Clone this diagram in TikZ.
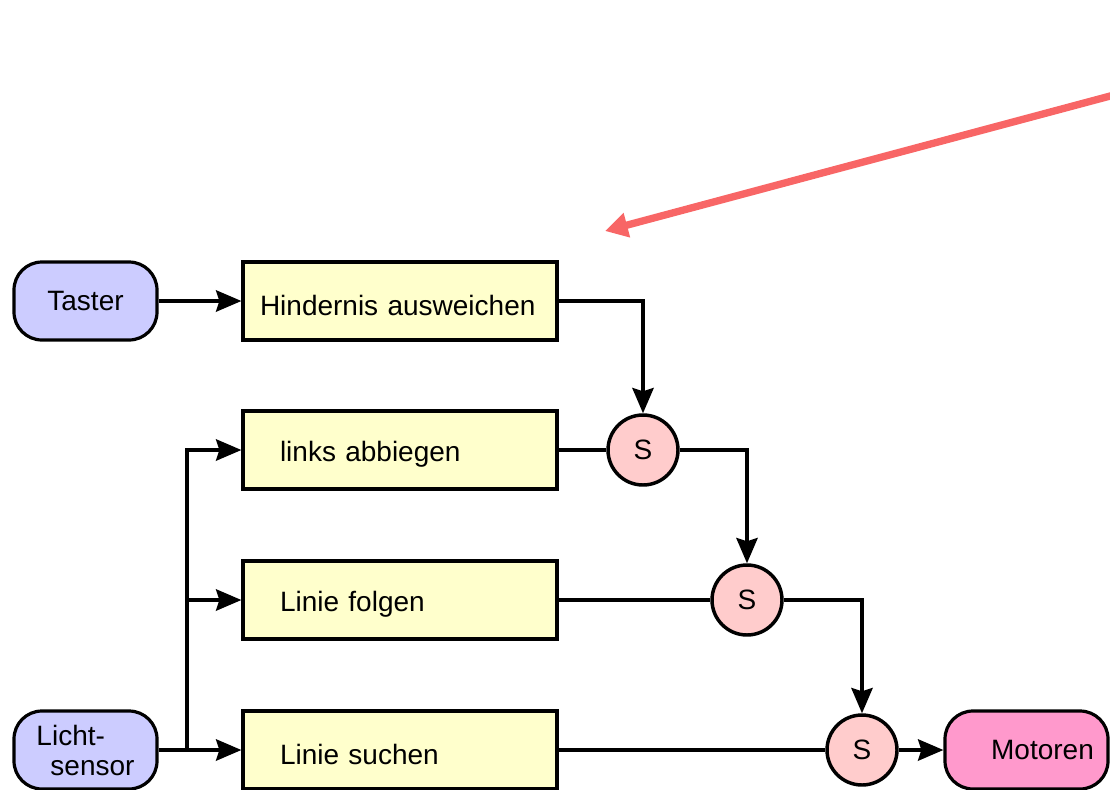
\documentclass[tikz,border=0pt]{standalone}
\usepackage{fontspec}
\setmainfont{Liberation Sans}
\usetikzlibrary{arrows.meta}
\definecolor{lav}{RGB}{204,204,255}
\definecolor{ylw}{RGB}{255,255,204}
\definecolor{pnk}{RGB}{255,204,204}
\definecolor{mag}{RGB}{255,153,204}
\definecolor{redarr}{RGB}{248,102,102}
\newcommand{\lowtxt}[1]{\raisebox{-3pt}[\height][\depth]{#1}}
\begin{document}
\begin{tikzpicture}[x=0.75pt,y=-0.75pt,
 every node/.style={font=\fontsize{21}{22.5}\selectfont},
 sensorbox/.style={draw, line width=2.4pt, rounded corners=21pt, fill=lav, minimum width=107.25pt, minimum height=58.5pt, inner sep=0pt},
 taskbox/.style={draw, line width=2.4pt, fill=ylw, minimum height=58.5pt, align=left, text width=180pt, inner xsep=27.75pt, inner ysep=0pt},
 sumnode/.style={circle, draw, line width=2.6pt, fill=pnk, minimum size=52.5pt, inner sep=0pt, font=\fontsize{21}{22}\selectfont},
 conn/.style={line width=2.5pt},
 arr/.style={conn, -{Stealth[length=19pt,width=16pt,inset=2.5pt]}},
 redline/.style={line width=5.5pt, draw=redarr, -{Triangle[length=17pt,width=18pt]}},
]
\path[use as bounding box] (0,0) rectangle (1110,789);
\clip (0,0) rectangle (1110,789);

% sensors and actuators
\node[sensorbox] (taster) at (85.5,301) {Taster};
\node[sensorbox, align=left] (licht) at (85.5,750) {Licht-\\\hspace*{10.5pt}sensor};
\node[sensorbox, fill=mag, minimum width=122.25pt] (mot) at (1026.5,750) {\hspace*{24pt}Motoren};

% behaviours
\node[taskbox, text width=210pt, inner xsep=12.75pt] (hind) at (400,301) {\lowtxt{Hindernis ausweichen}};
\node[taskbox] (links) at (400,450) {\lowtxt{links abbiegen}};
\node[taskbox] (folgen) at (400,600) {\lowtxt{Linie folgen}};
\node[taskbox] (suchen) at (400,750) {\lowtxt{Linie suchen}};

% suppressor nodes
\node[sumnode] (s1) at (643,450) {S};
\node[sumnode] (s2) at (747,600) {S};
\node[sumnode] (s3) at (862,750) {S};

% connectors
\draw[arr] (taster) -- (hind);
\draw[arr] (hind) -| (s1);
\draw[conn] (links) -- (s1);
\draw[arr] (s1) -| (s2);
\draw[conn] (folgen) -- (s2);
\draw[arr] (s2) -| (s3);
\draw[conn] (suchen) -- (s3);
\draw[arr] (s3) -- (mot);

\coordinate (br) at (187,750);
\draw[arr] (licht) -- (suchen);
\draw[arr] (br) |- (links);
\draw[arr] (br |- folgen) -- (folgen);

% red pointer
\coordinate (rs) at (1114,95);
\coordinate (re) at (605,231);
\draw[redline] (rs) -- (re);
\end{tikzpicture}
\end{document}
